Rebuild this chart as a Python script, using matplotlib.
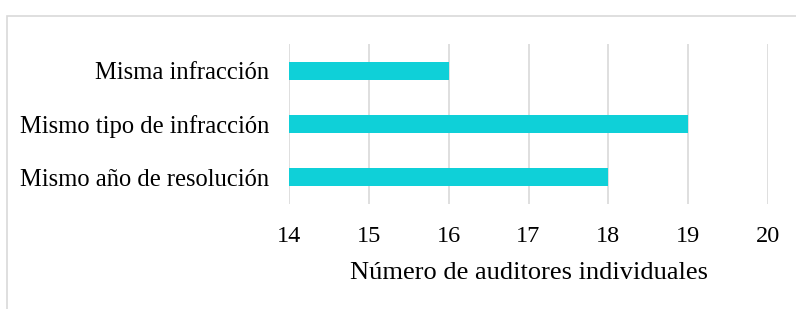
import matplotlib
matplotlib.use("Agg")
import matplotlib.pyplot as plt
from matplotlib.patches import Rectangle

categories = ["Misma infracción", "Mismo tipo de infracción", "Mismo año de resolución"]
values = [16, 19, 18]
xticks = [14, 15, 16, 17, 18, 19, 20]
xlabel = "Número de auditores individuales"

plt.rcParams['font.family'] = ['Liberation Serif', 'DejaVu Serif']

W, H = 796, 309
fig = plt.figure(figsize=(W/100, H/100), dpi=100)
ax = fig.add_axes([289/W, 1-204/H, (768-289)/W, (204-44)/H])

ypos = list(range(len(categories)))
ax.barh(ypos, [v - 14 for v in values], left=14, height=0.34, color="#0FD0D8", zorder=3)
ax.set_ylim(len(categories) - 0.5, -0.5)
ax.set_xlim(14, 20)
ax.set_xticks(xticks)
ax.set_xticklabels([str(t) for t in xticks], fontsize=17.5)
ax.set_yticks(ypos)
ax.set_yticklabels(categories, fontsize=17.7)
ax.tick_params(axis='x', length=0, pad=15.5)
ax.tick_params(axis='y', length=0, pad=14)
ax.grid(axis='x', color="#D9D9D9", linewidth=1.2, zorder=0)
for s in ax.spines.values():
    s.set_visible(False)
ax.set_xlabel(xlabel, fontsize=19, labelpad=11)

fig.patches.append(Rectangle((7.5/W, -0.1), 1.2, (1 - 15.5/H) + 0.1, transform=fig.transFigure,
                             fill=False, edgecolor="#D9D9D9", linewidth=1.2))
fig.savefig("out.png", dpi=100)
